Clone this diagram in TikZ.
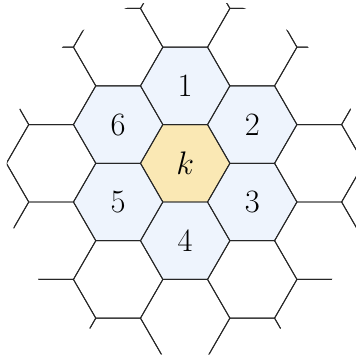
\documentclass[tikz,border=0pt]{standalone}
\definecolor{hexblue}{RGB}{238,244,253}
\definecolor{hexyellow}{RGB}{250,232,180}
\tikzset{
  hexline/.style={draw=black!85, line width=0.6pt, line join=round},
  hexlabel/.style={font=\fontsize{19.5}{22}\selectfont, inner sep=0pt},
  hexpath/.pic={\path[pic actions] (1,0) -- (0.5,0.8660254) -- (-0.5,0.8660254) -- (-1,0) -- (-0.5,-0.8660254) -- (0.5,-0.8660254) -- cycle;}
}
\begin{document}
\begin{tikzpicture}[x=1cm,y=1cm]
\useasboundingbox (-4.143,-4.356) rectangle (3.82,3.653);
\begin{scope}
  \clip (0,-0.31) circle (4.0);
  % fills
  \pic[fill=hexyellow] at (0,0) {hexpath};
  \foreach \p in {(0,1.7320508),(1.5,0.8660254),(1.5,-0.8660254),(0,-1.7320508),(-1.5,-0.8660254),(-1.5,0.8660254)}
    \pic[fill=hexblue] at \p {hexpath};
  % grid
  \foreach \i in {-4,...,4}
    \foreach \j in {-6,...,6}
      \pic[hexline] at ({1.5*\i},{0.8660254*(2*\j+\i)}) {hexpath};
\end{scope}
\node[hexlabel] (k) at (0,0) {$k$};
\node[hexlabel] (n1) at (0,1.7320508) {$1$};
\node[hexlabel] (n2) at (1.5,0.8660254) {$2$};
\node[hexlabel] (n3) at (1.5,-0.8660254) {$3$};
\node[hexlabel] (n4) at (0,-1.7320508) {$4$};
\node[hexlabel] (n5) at (-1.5,-0.8660254) {$5$};
\node[hexlabel] (n6) at (-1.5,0.8660254) {$6$};
\end{tikzpicture}
\end{document}
